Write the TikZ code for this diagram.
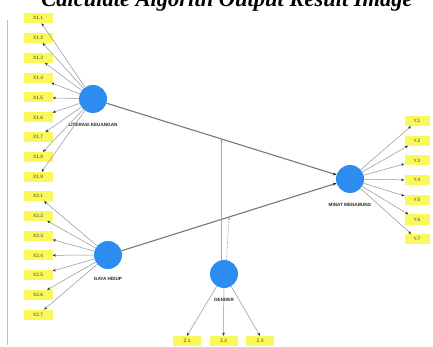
\documentclass[tikz,border=0pt]{standalone}
\usepackage{fontspec}
\setmainfont{Liberation Sans}
\newfontfamily\titlefont{Liberation Serif}
\usetikzlibrary{positioning,calc,arrows.meta}

\definecolor{latentblue}{RGB}{45,140,240}
\definecolor{itemyellow}{RGB}{250,248,90}
\definecolor{pathgray}{RGB}{120,120,120}
\definecolor{modgray}{RGB}{150,175,170}

\tikzset{
  latent/.style={circle, fill=latentblue, draw=none, minimum size=28pt, inner sep=0pt},
  item/.style={rectangle, fill=itemyellow, minimum width=29pt, minimum height=10pt, inner sep=0pt, font=\fontsize{4.8}{5}\selectfont, text=black!75},
  latlabel/.style={inner sep=0pt, font=\fontsize{4.6}{5}\selectfont\bfseries, text=black!85},
  load/.style={-{Stealth[length=3.2pt,width=2.6pt,color=black!85]}, draw=pathgray!80, line width=0.5pt},
  path/.style={-{Stealth[length=3.6pt,width=3pt,color=black!85]}, draw=pathgray, line width=1.1pt},
}

\begin{document}
\begin{tikzpicture}[x=1pt, y=-1pt]
        \clip (0,0) rectangle (433,347);
        \fill[white] (0,0) rectangle (433,347);

        % Title and frame
        \node (title) [anchor=base, inner sep=0pt, font=\titlefont\fontsize{22.5}{24}\selectfont\bfseries\itshape] at (227,7) {Calculate Algorith Output Result Image};
        \draw [black!25, line width=0.6pt] (7,20) -- (7,345);

        % Latent variables
        \node (LK) [latent] at (93,99) {};
        \node (GH) [latent] at (108,255) {};
        \node (MM) [latent] at (350,179) {};
        \node (GEN) [latent] at (224,274) {};
        \node (LKlabel) [latlabel, below=10pt of LK] {LITERASI KEUANGAN};
        \node (GHlabel) [latlabel, below=8pt of GH] {GAYA HIDUP};
        \node (MMlabel) [latlabel, below=10pt of MM] {MINAT MENABUNG};
        \node (GENlabel) [latlabel, below=10pt of GEN] {GENDER};

        % Indicators
        \foreach \i in {1,...,9}
          \node (X1\i) [item] at (38,{18+19.875*(\i-1)}) {X1.\i};
        \foreach \i in {1,...,7}
          \node (X2\i) [item] at (38,{196+19.8*(\i-1)}) {X2.\i};
        \foreach \i in {1,...,7}
          \node (Y\i) [item, minimum width=25pt] at (417,{121+19.7*(\i-1)}) {Y.\i};
        \foreach \i in {1,2,3}
          \node (Z\i) [item, minimum width=28pt] at ({187+36.5*(\i-1)},341) {Z.\i};

        % Loadings
        \foreach \i in {1,...,9}
          \draw [load] (LK) -- (X1\i);
        \foreach \i in {1,...,7}
          \draw [load] (GH) -- (X2\i);
        \foreach \i in {1,...,7}
          \draw [load] (MM) -- (Y\i);
        \foreach \i in {1,2,3}
          \draw [load] (GEN) -- (Z\i.north);

        % Paths
        \draw [path] (LK) -- (MM);
        \draw [path] (GH) -- (MM);
        \coordinate (modLK) at ($(LK)!0.5!(MM)$);
        \coordinate (modGH) at ($(GH)!0.5!(MM)$);
        \draw [-{Stealth[length=3pt,width=2.4pt]}, modgray, line width=0.6pt] (GEN.100) -- (modLK);
        \draw [-{Stealth[length=3pt,width=2.4pt]}, modgray, line width=0.6pt, dash pattern=on 1.5pt off 1pt] (GEN.80) -- (modGH);
    \end{tikzpicture}
\end{document}
